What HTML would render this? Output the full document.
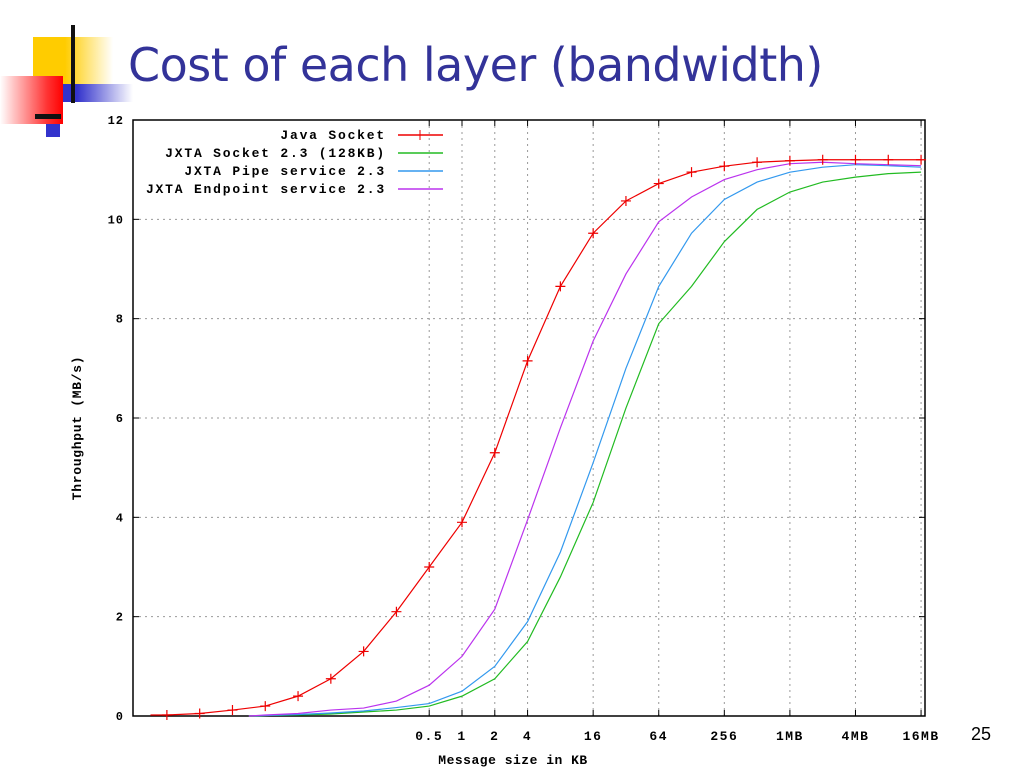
<!DOCTYPE html>
<html><head><meta charset="utf-8"><style>
body{margin:0;width:1024px;height:768px;background:#fff;overflow:hidden;position:relative;font-family:"Liberation Sans",sans-serif}
.abs{position:absolute}
</style></head><body>
<div class="abs" style="left:33px;top:37px;width:80px;height:48px;background:linear-gradient(90deg,#ffcc00 0%,#ffcc00 40%,#fff 100%)"></div>
<div class="abs" style="left:63px;top:84px;width:70px;height:18px;background:linear-gradient(90deg,#3333cc 0%,#3333cc 20%,#fff 100%)"></div>
<div class="abs" style="left:0px;top:76px;width:63px;height:48px;background:linear-gradient(90deg,#fff 0%,#ff3333 75%,#ff0000 100%)"></div>
<div class="abs" style="left:71px;top:25px;width:4px;height:78px;background:#111"></div>
<div class="abs" style="left:35px;top:114px;width:26px;height:5px;background:#111"></div>
<div class="abs" style="left:46px;top:124px;width:14px;height:13px;background:#3333cc"></div>
<div class="abs" style="left:128px;top:38px;font-size:46px;color:#333399;font-family:'DejaVu Sans','Liberation Sans',sans-serif;letter-spacing:-0.5px">Cost of each layer (bandwidth)</div>
<div class="abs" style="left:971px;top:724px;font-size:18px;color:#000">25</div>
<svg id="chart" class="abs" style="left:0;top:0" width="1024" height="768"></svg>
<script>
const xTicks=[-1,0,1,2,4,6,8,10,12,14];
const xTickLabels=["0.5","1","2","4","16","64","256","1MB","4MB","16MB"];
const yTicks=[0,2,4,6,8,10,12];
const javaX=[-9.5,-9,-8,-7,-6,-5,-4,-3,-2,-1,0,1,2,3,4,5,6,7,8,9,10,11,12,13,14];
const javaY=[0.02,0.02,0.05,0.12,0.2,0.4,0.75,1.3,2.1,3.0,3.9,5.3,7.15,8.65,9.72,10.37,10.72,10.95,11.07,11.15,11.18,11.2,11.2,11.2,11.2];
const jX=[-6.5,-6,-5,-4,-3,-2,-1,0,1,2,3,4,5,6,7,8,9,10,11,12,13,14];
const greenY=[0,0.01,0.02,0.04,0.08,0.12,0.2,0.4,0.75,1.5,2.8,4.3,6.2,7.9,8.65,9.55,10.2,10.55,10.75,10.85,10.92,10.95];
const blueY=[0,0.01,0.03,0.06,0.1,0.17,0.25,0.5,1.0,1.9,3.3,5.1,7.0,8.65,9.72,10.4,10.75,10.95,11.05,11.1,11.08,11.05];
const magY=[0,0.02,0.05,0.12,0.16,0.3,0.62,1.2,2.15,3.95,5.8,7.55,8.9,9.95,10.45,10.8,11.0,11.12,11.15,11.12,11.1,11.08];
const L=133,R=925,T=120,B=716;
const sx=v=>462+v*32.79, sy=v=>B-(v/12)*(B-T);
const svg=document.getElementById('chart');const NS='http://www.w3.org/2000/svg';
function mk(t,a,p){const e=document.createElementNS(NS,t);for(const k in a)e.setAttribute(k,a[k]);(p||svg).appendChild(e);return e;}
const mono='"Liberation Mono","DejaVu Sans Mono",monospace';
xTicks.forEach((v,i)=>{
 const g=mk('line',{x1:sx(v),x2:sx(v),y1:T,y2:B,stroke:'#999','stroke-dasharray':'2,4','stroke-width':1});
 
 mk('line',{x1:sx(v),x2:sx(v),y1:B,y2:B-6,stroke:'#000'});mk('line',{x1:sx(v),x2:sx(v),y1:T,y2:T+6,stroke:'#000'});
 const t=mk('text',{x:sx(v),y:740,'text-anchor':'middle','font-family':mono,'font-weight':'bold','font-size':13,'letter-spacing':1.5});t.textContent=xTickLabels[i];
 
});
yTicks.forEach(v=>{
 if(v>0&&v<12){const g=mk('line',{x1:L,x2:R,y1:sy(v),y2:sy(v),stroke:'#999','stroke-dasharray':'2,4'});
 }
 mk('line',{x1:L,x2:L+6,y1:sy(v),y2:sy(v),stroke:'#000'});mk('line',{x1:R,x2:R-6,y1:sy(v),y2:sy(v),stroke:'#000'});
 const t=mk('text',{x:124,y:sy(v)+4,'text-anchor':'end','font-family':mono,'font-weight':'bold','font-size':12,'letter-spacing':1});t.textContent=v;
 
});
const fr=mk('rect',{x:L,y:T,width:R-L,height:B-T,fill:'none',stroke:'#000','stroke-width':1.5});

function series(xs,ys,col,name){
 const p=mk('polyline',{points:xs.map((x,i)=>sx(x)+','+sy(ys[i])).join(' '),fill:'none',stroke:col,'stroke-width':1.2});
 
}
series(jX,greenY,'#22bb22','jxta-socket-line');
series(jX,blueY,'#3399ee','jxta-pipe-line');
series(jX,magY,'#bb33ee','jxta-endpoint-line');
series(javaX,javaY,'#ee0000','java-socket-line');
javaX.forEach((x,i)=>{if(i===0)return;const cx=sx(x),cy=sy(javaY[i]);
 const m=mk('path',{d:`M${cx-5},${cy}H${cx+5}M${cx},${cy-5}V${cy+5}`,stroke:'#ee0000','stroke-width':1.2});
 });
const leg=[["Java Socket",'#ee0000'],["JXTA Socket 2.3 (128KB)",'#22bb22'],["JXTA Pipe service 2.3",'#3399ee'],["JXTA Endpoint service 2.3",'#bb33ee']];
leg.forEach((l,i)=>{const y=135+i*18;
 const t=mk('text',{x:386,y:y+4,'text-anchor':'end','font-family':mono,'font-weight':'bold','font-size':13,'letter-spacing':1.8});t.textContent=l[0];
 
 const ln=mk('line',{x1:398,x2:443,y1:y,y2:y,stroke:l[1],'stroke-width':1.5});
 
 if(i===0)mk('line',{x1:420,x2:420,y1:y-5,y2:y+5,stroke:l[1]});
});
const xl=mk('text',{x:513,y:764,'text-anchor':'middle','font-family':mono,'font-weight':'bold','font-size':13,'letter-spacing':0.5});xl.textContent='Message size in KB';

const yl=mk('text',{x:0,y:0,'text-anchor':'middle','font-family':mono,'font-weight':'bold','font-size':13,'letter-spacing':0.7,transform:'translate(81,428) rotate(-90)'});yl.textContent='Throughput (MB/s)';

</script>
</body></html>
